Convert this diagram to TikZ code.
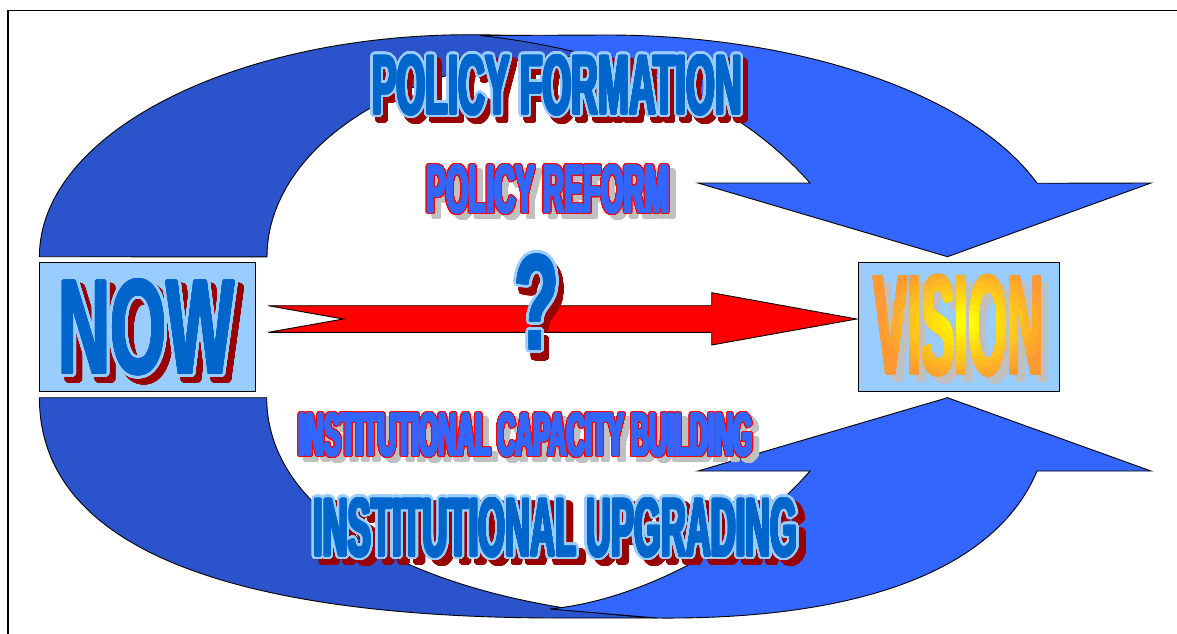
\documentclass[tikz,border=0pt]{standalone}
\usepackage{fontspec}
\setmainfont{Liberation Sans}
\usepackage{graphicx}

\definecolor{backblue}{RGB}{43,84,204}
\definecolor{frontblue}{RGB}{51,102,255}
\definecolor{panelblue}{RGB}{153,204,255}
\definecolor{wordblue}{RGB}{0,102,204}
\definecolor{wordlight}{RGB}{153,204,255}
\definecolor{shadowred}{RGB}{153,0,0}
\definecolor{shadowgray}{RGB}{192,192,192}
\definecolor{vorange}{RGB}{255,153,51}
\definecolor{vyellow}{RGB}{255,255,0}

% copies of #3 in colour #1 on a ring of radius #2, then #3 itself
\newcommand{\ringed}[3]{%
  \leavevmode
  \foreach \a in {0,22.5,...,337.5}{%
    \pgfmathsetlengthmacro\dx{#2*cos(\a)}%
    \pgfmathsetlengthmacro\dy{#2*sin(\a)}%
    \rlap{\kern\dx\raisebox{\dy}{\color{#1}#3}}}%
  #3}
% squeezed heavy caps, thickened a little in the current colour
\newcommand{\squeezed}[3]{\ringed{.}{1.1pt}{\resizebox{#1}{#2}{\bfseries #3}}}
% same, with an outline round it
\newcommand{\wordart}[5]{\ringed{#1}{#2}{\squeezed{#3}{#4}{#5}}}

\begin{document}
\begin{tikzpicture}[x=1pt,y=-1pt]

  \tikzstyle{border}=[draw=black,line width=1.6pt]
  \tikzstyle{backband}=[draw=black,fill=backblue,line width=0.9pt]
  \tikzstyle{frontband}=[draw=black,fill=frontblue,line width=0.9pt]
  \tikzstyle{bolt}=[draw=black,fill=red,line width=0.9pt]
  \tikzstyle{panel}=[rectangle,draw=black,fill=panelblue,line width=0.9pt,
    inner sep=0pt,minimum height=129.4pt]
  \tikzstyle{word}=[inner sep=0pt]

  \useasboundingbox (0,0) rectangle (1177,633);
  \clip (0,0) rectangle (1177,633);
  \fill[white] (0,0) rectangle (1177,633);
  \draw[border] (7.7,10.5) rectangle (1200,660);

  %% \draw [help lines,step=50] (0,0) grid (1177,633);

  % upper band: back half, then the half with the head
  \path[backband] (39.4,256.7) arc[start angle=180,end angle=320,x radius=431,y radius=222]
    -- (800.2,117) arc[start angle=315.6,end angle=180,x radius=311,y radius=200] -- cycle;
  \path[frontband] (480,35.5) -- (607,35)
    arc[start angle=270,end angle=340.6,x radius=456,y radius=222]
    -- (1151,183) -- (947.5,256.7) -- (698,183) -- (810,183)
    .. controls (740,104) and (630,52) .. (480,35.5) -- cycle;

  % lower band
  \path[backband] (39.4,397.7) .. controls (39.4,547.7) and (230,618) .. (560,618) -- (657,618)
    .. controls (440,605) and (267,525) .. (266.7,397.7) -- cycle;
  \path[frontband] (550,609) -- (657,618) .. controls (880,620) and (1000,560) .. (1037,471)
    -- (1151,471) -- (947.5,397.7) -- (698,471) -- (810,471)
    .. controls (745,545) and (640,600) .. (550,609) -- cycle;

  \node (now)    at (147.5,327) [panel,minimum width=216.4pt] {};
  \node (vision) at (958.8,327) [panel,minimum width=201pt]   {};

  \coordinate (tail) at (268.3,319);
  \coordinate (tip)  at (856.7,319);
  \path[bolt] (tip) -- ++(-145,-26.3) -- ++(0,13) -- (tail |- 0,305.7)
    -- ++(75,13.3) -- ++(-75,13.3) -- ++(443.4,0) -- ++(0,12.7) -- cycle;

  % words over the bands
  \node (nowsh)  at (152.5,333.5) [word,text=shadowred]
    {\wordart{shadowred}{2.8pt}{176pt}{94pt}{NOW}};
  \node (nowtxt) at (146.5,327.5) [word,text=wordblue]
    {\wordart{wordlight}{2.8pt}{176pt}{94pt}{NOW}};

  \node (formsh)  at (562,91) [word,text=shadowred]
    {\wordart{shadowred}{2.4pt}{369.5pt}{59pt}{POLICY FORMATION}};
  \node (formtxt) at (557,85) [word,text=wordblue]
    {\wordart{wordlight}{2.4pt}{369.5pt}{59pt}{POLICY FORMATION}};

  \node (reformsh)  at (554,194.5) [word,text=shadowgray]
    {\wordart{shadowgray}{1.1pt}{242.5pt}{47pt}{POLICY REFORM}};
  \node (reformtxt) at (548,189.5) [word,text=frontblue]
    {\wordart{red}{1.1pt}{242.5pt}{47pt}{POLICY REFORM}};

  \node (asksh)  at (542,310) [word,text=shadowred]
    {\wordart{shadowred}{2.8pt}{44.5pt}{94.5pt}{?}};
  \node (asktxt) at (537,302) [word,text=wordblue]
    {\wordart{wordlight}{2.8pt}{44.5pt}{94.5pt}{?}};

  \node (capsh)  at (532,440) [word,text=shadowgray]
    {\wordart{shadowgray}{1.1pt}{454pt}{42pt}{INSTITUTIONAL CAPACITY BUILDING}};
  \node (captxt) at (526,435) [word,text=frontblue]
    {\wordart{red}{1.1pt}{454pt}{42pt}{INSTITUTIONAL CAPACITY BUILDING}};

  \node (upgsh)  at (562.5,533.5) [word,text=shadowred]
    {\wordart{shadowred}{2.4pt}{484pt}{58pt}{INSTITUTIONAL UPGRADING}};
  \node (upgtxt) at (555.5,527.5) [word,text=wordblue]
    {\wordart{wordlight}{2.4pt}{484pt}{58pt}{INSTITUTIONAL UPGRADING}};

  % vision: orange rim, yellow in the middle
  \node (visionsh)  at (966,332.5) [word,text=shadowgray] {\squeezed{170pt}{99pt}{VISION}};
  \node (visiontxt) at (959,325.5) [word,text=vorange]    {\squeezed{170pt}{99pt}{VISION}};
  \foreach \k [evaluate=\k as \rx using 90-8*\k, evaluate=\k as \p using 10*\k] in {1,...,10}{
    \begin{scope}
      \clip (965,322) ellipse [x radius=\rx,y radius=0.7*\rx];
      \node (glow\k) at (959,325.5) [word,text=vyellow!\p!vorange]
        {\squeezed{170pt}{99pt}{VISION}};
    \end{scope}}

\end{tikzpicture}
\end{document}
